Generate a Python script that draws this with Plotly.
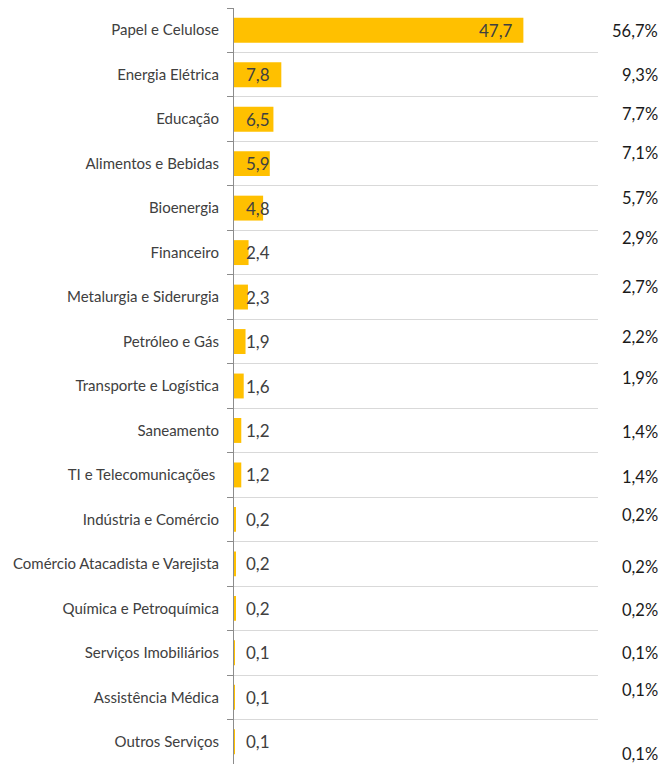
import plotly.graph_objects as go

categories = [
    "Papel e Celulose", "Energia Elétrica", "Educação", "Alimentos e Bebidas",
    "Bioenergia", "Financeiro", "Metalurgia e Siderurgia", "Petróleo e Gás",
    "Transporte e Logística", "Saneamento", "TI e Telecomunicações ",
    "Indústria e Comércio", "Comércio Atacadista e Varejista",
    "Química e Petroquímica", "Serviços Imobiliários", "Assistência Médica",
    "Outros Serviços",
]
values = [47.7, 7.8, 6.5, 5.9, 4.8, 2.4, 2.3, 1.9, 1.6, 1.2, 1.2, 0.2, 0.2, 0.2, 0.1, 0.1, 0.1]
value_labels = ["47,7", "7,8", "6,5", "5,9", "4,8", "2,4", "2,3", "1,9", "1,6", "1,2", "1,2",
                "0,2", "0,2", "0,2", "0,1", "0,1", "0,1"]
share_labels = ["56,7%", "9,3%", "7,7%", "7,1%", "5,7%", "2,9%", "2,7%", "2,2%", "1,9%",
                "1,4%", "1,4%", "0,2%", "0,2%", "0,2%", "0,1%", "0,1%", "0,1%"]
# vertical offsets (px) of the share labels as placed in the original
share_yshift = [-1, 0, 5, 11, 10, 15, 10, 5, 8, -2, -2, 4, -3, -2, 0, 7, -12]

FONT = "Lato, Carlito, Calibri, sans-serif"
TXT = "#404040"

fig = go.Figure(go.Bar(
    x=values, y=categories, orientation="h",
    marker=dict(color="#FFC000", line=dict(width=0)),
    hoverinfo="skip",
))

annotations = []
for c, v, lab in zip(categories, values, value_labels):
    if v > 20:
        annotations.append(dict(x=v, y=c, xref="x", yref="y", text=lab, showarrow=False,
                                xanchor="right", xshift=-8,
                                font=dict(family=FONT, size=17, color=TXT)))
    else:
        annotations.append(dict(x=0, y=c, xref="x", yref="y", text=lab, showarrow=False,
                                xanchor="left", xshift=10,
                                font=dict(family=FONT, size=17, color=TXT)))
for c, s, dy in zip(categories, share_labels, share_yshift):
    annotations.append(dict(x=1.17, y=c, xref="paper", yref="y", text=s, showarrow=False,
                            xanchor="right", yshift=dy,
                            font=dict(family=FONT, size=16.5, color="#1a1a1a")))

fig.update_layout(
    width=665, height=764,
    margin=dict(l=234, r=67, t=8, b=0),
    paper_bgcolor="white", plot_bgcolor="white",
    showlegend=False,
    bargap=0.44,
    annotations=annotations,
    xaxis=dict(range=[0, 60], showgrid=False, showticklabels=False, zeroline=False,
               showline=False, fixedrange=True),
    yaxis=dict(type="category", autorange="reversed", tickson="boundaries",
               showgrid=True, gridcolor="#d9d9d9", gridwidth=1,
               showline=True, linecolor="#8c8c8c", linewidth=1,
               ticks="outside", ticklen=6, tickcolor="#8c8c8c",
               ticklabelstandoff=11,
               tickfont=dict(family=FONT, size=15, color=TXT), fixedrange=True),
)

fig.write_html(
    "out.html",
    config={"displayModeBar": False},
    post_script="document.body.style.margin='0';document.body.style.overflow='hidden';",
)
